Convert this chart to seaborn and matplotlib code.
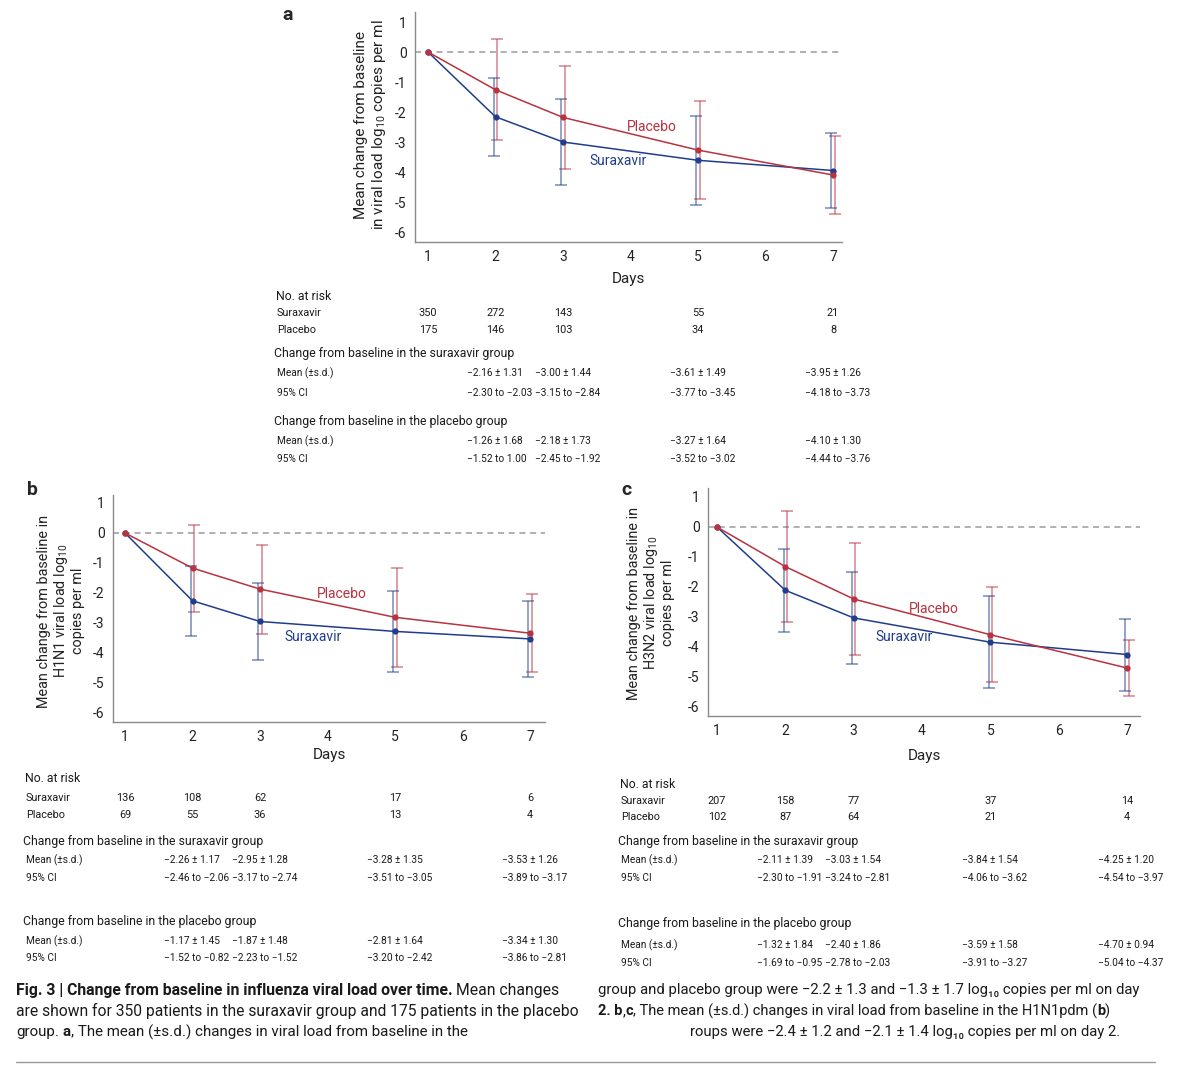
import numpy as np
import pandas as pd
import seaborn as sns
import matplotlib.pyplot as plt
from matplotlib import transforms, font_manager
from matplotlib.lines import Line2D

# ---- data ----
days = [1, 2, 3, 5, 7]
days_ticks = [1, 2, 3, 4, 5, 6, 7]
y_ticks = [-6, -5, -4, -3, -2, -1, 0, 1]

# a: all patients
a_sur_mean = [0, -2.16, -3.00, -3.61, -3.95]
a_sur_sd = [np.nan, 1.31, 1.44, 1.49, 1.26]
a_pla_mean = [0, -1.26, -2.18, -3.27, -4.10]
a_pla_sd = [np.nan, 1.68, 1.73, 1.64, 1.30]
a_sur_risk = [350, 272, 143, 55, 21]
a_pla_risk = [175, 146, 103, 34, 8]
a_sur_ci = ["−2.30 to −2.03", "−3.15 to −2.84", "−3.77 to −3.45", "−4.18 to −3.73"]
a_pla_ci = ["−1.52 to 1.00", "−2.45 to −1.92", "−3.52 to −3.02", "−4.44 to −3.76"]

# b: H1N1
b_sur_mean = [0, -2.26, -2.95, -3.28, -3.53]
b_sur_sd = [np.nan, 1.17, 1.28, 1.35, 1.26]
b_pla_mean = [0, -1.17, -1.87, -2.81, -3.34]
b_pla_sd = [np.nan, 1.45, 1.48, 1.64, 1.30]
b_sur_risk = [136, 108, 62, 17, 6]
b_pla_risk = [69, 55, 36, 13, 4]
b_sur_ci = ["−2.46 to −2.06", "−3.17 to −2.74", "−3.51 to −3.05", "−3.89 to −3.17"]
b_pla_ci = ["−1.52 to −0.82", "−2.23 to −1.52", "−3.20 to −2.42", "−3.86 to −2.81"]

# c: H3N2
c_sur_mean = [0, -2.11, -3.03, -3.84, -4.25]
c_sur_sd = [np.nan, 1.39, 1.54, 1.54, 1.20]
c_pla_mean = [0, -1.32, -2.40, -3.59, -4.70]
c_pla_sd = [np.nan, 1.84, 1.86, 1.58, 0.94]
c_sur_risk = [207, 158, 77, 37, 14]
c_pla_risk = [102, 87, 64, 21, 4]
c_sur_ci = ["−2.30 to −1.91", "−3.24 to −2.81", "−4.06 to −3.62", "−4.54 to −3.97"]
c_pla_ci = ["−1.69 to −0.95", "−2.78 to −2.03", "−3.91 to −3.27", "−5.04 to −4.37"]

SUR_C = "#1f3d8c"
PLA_C = "#b8323f"
pal = {"Suraxavir": SUR_C, "Placebo": PLA_C}

sns.set_style("white")
names = {f.name for f in font_manager.fontManager.ttflist}
plt.rcParams["font.family"] = ["Roboto", "DejaVu Sans"]
plt.rcParams["axes.unicode_minus"] = False
plt.rcParams["mathtext.fontset"] = "custom"
plt.rcParams["mathtext.rm"] = "Roboto"
plt.rcParams["mathtext.it"] = "Roboto:italic"
plt.rcParams["mathtext.bf"] = "Roboto:bold"

if "Liberation Sans Narrow" in names:
    cap_font = ["Liberation Sans Narrow", "DejaVu Sans"]
else:
    cap_font = ["Roboto", "DejaVu Sans"]

W, H = 1184, 1080
fig = plt.figure(figsize=(W / 100, H / 100), dpi=100)
fig.patch.set_facecolor("white")
renderer = fig.canvas.get_renderer()


def fx(x):
    return x / W


def fy(y):
    return 1 - y / H


def make_axes(box, d1, d7, zero):
    l, t, r, b = box
    ax = fig.add_axes([fx(l), fy(b), (r - l) / W, (b - t) / H])
    ppd = (d7 - d1) / 6
    ax.set_xlim(1 - (d1 - l) / ppd, 7 + (r - d7) / ppd)
    ax.set_ylim(-(b - zero) / 30, (zero - t) / 30)
    return ax


def draw_panel(ax, sur_m, sur_sd, pla_m, pla_sd, pla_lab, sur_lab, xlabpad):
    df = pd.DataFrame({
        "day": days + days,
        "mean": sur_m + pla_m,
        "sd": sur_sd + pla_sd,
        "group": ["Suraxavir"] * 5 + ["Placebo"] * 5,
    })
    ax.axhline(0, color="#9b9b9b", ls=(0, (4, 3)), lw=1.1, zorder=1)
    shift = {"Suraxavir": -0.025, "Placebo": 0.025}
    for g, sub in df.dropna().groupby("group"):
        ax.errorbar(sub["day"] + shift[g], sub["mean"], yerr=sub["sd"], fmt="none",
                    ecolor=pal[g], alpha=0.6, elinewidth=1.1, capsize=4,
                    capthick=1.1, zorder=2)
    sns.lineplot(data=df, x="day", y="mean", hue="group", palette=pal,
                 marker="o", markersize=4.5, markeredgewidth=0, linewidth=1.1,
                 estimator=None, sort=False, legend=False, ax=ax, zorder=3)
    ax.text(*pla_lab, "Placebo", color=PLA_C, fontsize=10, ha="center", va="center")
    ax.text(*sur_lab, "Suraxavir", color=SUR_C, fontsize=10, ha="center", va="center")
    ax.set_xticks(days_ticks)
    ax.set_yticks(y_ticks)
    ax.set_ylabel("")
    ax.set_xlabel("Days", fontsize=11, labelpad=xlabpad, color="#222222")
    sns.despine(ax=ax)
    for s in ["left", "bottom"]:
        ax.spines[s].set_color("#8a8a8a")
        ax.spines[s].set_linewidth(1)
    ax.tick_params(length=4, width=1, color="#8a8a8a", labelsize=10,
                   labelcolor="#222222")
    ax.tick_params(axis="x", pad=1.5)
    ax.tick_params(axis="y", pad=2)


def draw_table(ax, xl, ys, sur_risk, pla_risk, sur_m, sur_sd, pla_m, pla_sd,
               sur_ci, pla_ci):
    tr = transforms.blended_transform_factory(ax.transData, fig.transFigure)
    txt = "#1a1a1a"
    fig.text(fx(xl), fy(ys[0]), "No. at risk", fontsize=8.8, color=txt, va="center")
    fig.text(fx(xl + 1), fy(ys[1]), "Suraxavir", fontsize=7.8, color=txt, va="center")
    fig.text(fx(xl + 1), fy(ys[2]), "Placebo", fontsize=7.8, color=txt, va="center")
    for d, n1, n2 in zip(days, sur_risk, pla_risk):
        ax.text(d, fy(ys[1]), str(n1), transform=tr, fontsize=7.8, color=txt,
                ha="center", va="center")
        ax.text(d, fy(ys[2]), str(n2), transform=tr, fontsize=7.8, color=txt,
                ha="center", va="center")
    blocks = [("Change from baseline in the suraxavir group", ys[3:6], sur_m, sur_sd, sur_ci),
              ("Change from baseline in the placebo group", ys[6:9], pla_m, pla_sd, pla_ci)]
    for title, (yt, ym, yc), m, sd, ci in blocks:
        fig.text(fx(xl - 2), fy(yt), title, fontsize=8.8, color=txt, va="center")
        fig.text(fx(xl + 1), fy(ym), "Mean (±s.d.)", fontsize=7.3, color=txt, va="center")
        fig.text(fx(xl + 1), fy(yc), "95% CI", fontsize=7.3, color=txt, va="center")
        for d, mm, ss, cc in zip(days[1:], m[1:], sd[1:], ci):
            ms = f"{mm:.2f} ± {ss:.2f}".replace("-", "−")
            ax.text(d - 0.42, fy(ym), ms, transform=tr, fontsize=7.3, color=txt,
                    ha="left", va="center")
            ax.text(d - 0.42, fy(yc), cc, transform=tr, fontsize=7.3, color=txt,
                    ha="left", va="center")


# ---- panel a ----
ax_a = make_axes((415, 12, 842, 242), 428, 833, 52)
draw_panel(ax_a, a_sur_mean, a_sur_sd, a_pla_mean, a_pla_sd,
           (4.32, -2.5), (3.81, -3.63), 6)
fig.text(fx(371), fy(125), "Mean change from baseline\nin viral load log$_{10}$ copies per ml",
         rotation=90, ha="center", va="center", fontsize=11, linespacing=1.2, color="#222222")
fig.text(fx(288), fy(15), "a", fontsize=14, fontweight="bold", ha="center", va="center")
draw_table(ax_a, 276, [296, 313, 330, 354, 373, 393, 421, 441, 459],
           a_sur_risk, a_pla_risk, a_sur_mean, a_sur_sd, a_pla_mean, a_pla_sd,
           a_sur_ci, a_pla_ci)

# ---- panel b ----
ax_b = make_axes((113, 495, 545, 722), 125, 530, 533)
draw_panel(ax_b, b_sur_mean, b_sur_sd, b_pla_mean, b_pla_sd,
           (4.21, -2.05), (3.79, -3.47), 3)
fig.text(fx(61), fy(611), "Mean change from baseline in\nH1N1 viral load log$_{10}$\ncopies per ml",
         rotation=90, ha="center", va="center", fontsize=10.4, linespacing=1.12, color="#222222")
fig.text(fx(32), fy(490), "b", fontsize=14, fontweight="bold", ha="center", va="center")
draw_table(ax_b, 25, [779, 798, 815, 842, 860, 878, 921, 941, 958],
           b_sur_risk, b_pla_risk, b_sur_mean, b_sur_sd, b_pla_mean, b_pla_sd,
           b_sur_ci, b_pla_ci)

# ---- panel c ----
ax_c = make_axes((708, 488, 1140, 716), 717, 1127, 527)
draw_panel(ax_c, c_sur_mean, c_sur_sd, c_pla_mean, c_pla_sd,
           (4.18, -2.73), (3.74, -3.67), 8)
fig.text(fx(651), fy(603), "Mean change from baseline in\nH3N2 viral load log$_{10}$\ncopies per ml",
         rotation=90, ha="center", va="center", fontsize=10.4, linespacing=1.12, color="#222222")
fig.text(fx(626), fy(490), "c", fontsize=14, fontweight="bold", ha="center", va="center")
draw_table(ax_c, 620, [784, 801, 817, 842, 860, 878, 924, 945, 963],
           c_sur_risk, c_pla_risk, c_sur_mean, c_sur_sd, c_pla_mean, c_pla_sd,
           c_sur_ci, c_pla_ci)

# ---- caption ----
line2 = "are shown for 350 patients in the suraxavir group and 175 patients in the placebo"


def text_w(s, size, bold=False):
    t = fig.text(0, 0, s, fontsize=size, family=cap_font,
                 fontweight="bold" if bold else "normal")
    w = t.get_window_extent(renderer).width
    t.remove()
    return w


def rich_line(x, y, parts, target):
    # size the line so it spans about the same width as in the printed caption
    def run(size, draw):
        cur = x
        sp = text_w("x x", size) - text_w("xx", size)
        for s, bold in parts:
            core = s.strip(" ")
            if s.startswith(" "):
                cur += sp
            if draw:
                t = fig.text(fx(cur), fy(y), core, fontsize=size, family=cap_font,
                             fontweight="bold" if bold else "normal", color="#1a1a1a",
                             ha="left", va="center")
                cur += t.get_window_extent(renderer).width
            else:
                cur += text_w(core, size, bold)
            if s.endswith(" "):
                cur += sp
        return cur - x
    size = 10 * target / run(10, False)
    run(size, True)


rich_line(16, 990, [("Fig. 3 | Change from baseline in influenza viral load over time.", True),
                    (" Mean changes", False)], 545)
rich_line(16, 1011, [(line2, False)], 562)
rich_line(16, 1032, [("group. ", False), ("a", True),
                     (", The mean (±s.d.) changes in viral load from baseline in the", False)], 455)
rich_line(598, 990, [("group and placebo group were −2.2 ± 1.3 and −1.3 ± 1.7 log₁₀ copies per ml on day", False)], 542)
rich_line(598, 1011, [("2. b", True), (",", False), ("c", True),
                      (", The mean (±s.d.) changes in viral load from baseline in the H1N1pdm (", False),
                      ("b", True), (")", False)], 515)
rich_line(690, 1032, [("roups were −2.4 ± 1.2 and −2.1 ± 1.4 log₁₀ copies per ml on day 2.", False)], 432)

fig.add_artist(Line2D([fx(16), fx(1155)], [fy(1062), fy(1062)], color="#9a9a9a", lw=1))

fig.savefig("out.png", dpi=100, facecolor="white")
